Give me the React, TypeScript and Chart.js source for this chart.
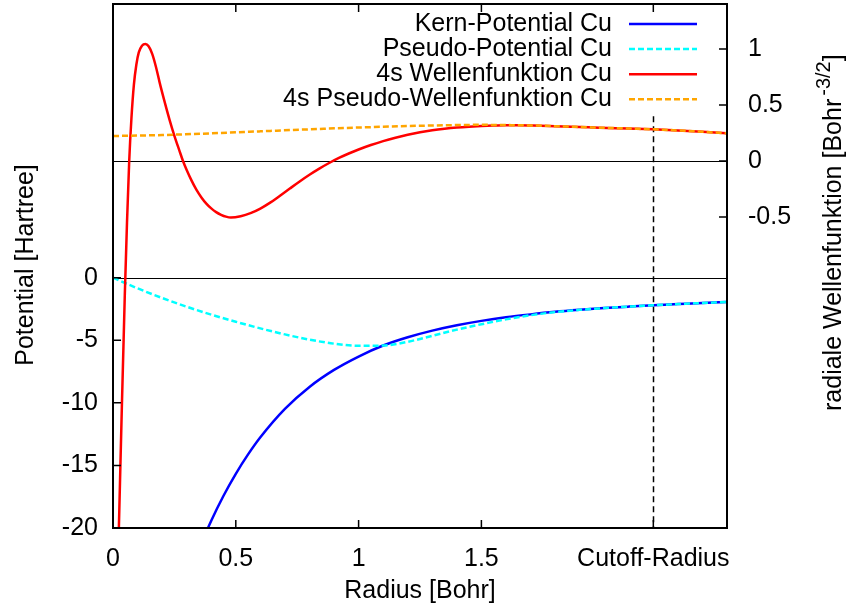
import React, { useEffect, useRef } from "react";
import { Chart, registerables } from "chart.js";

Chart.register(...registerables);

// Radius grid and values of the all-electron (Kern) potential, Hartree
const kernR = [0.30, 0.35, 0.40, 0.45, 0.50, 0.55, 0.60, 0.70, 0.80, 0.90, 1.00, 1.10, 1.20, 1.30, 1.40, 1.50, 1.60, 1.70, 1.80, 1.90, 2.00, 2.10, 2.20, 2.30, 2.40, 2.50];
const kernV = [-24.3, -21.7, -19.42, -17.42, -15.67, -14.12, -12.75, -10.48, -8.73, -7.37, -6.3, -5.42, -4.76, -4.23, -3.8, -3.45, -3.16, -2.93, -2.73, -2.57, -2.43, -2.31, -2.2, -2.11, -2.02, -1.94];

// Pseudo-potential, Hartree
const pseudoR = [0.0, 0.1, 0.2, 0.3, 0.4, 0.5, 0.6, 0.7, 0.8, 0.9, 1.0, 1.1, 1.2, 1.3, 1.4, 1.5, 1.6, 1.7, 1.8, 1.9, 2.0, 2.1, 2.2, 2.3, 2.4, 2.5];
const pseudoV = [0.0, -0.85, -1.62, -2.32, -2.95, -3.52, -4.05, -4.53, -4.95, -5.27, -5.44, -5.42, -5.12, -4.65, -4.15, -3.72, -3.33, -3.0, -2.75, -2.57, -2.43, -2.31, -2.2, -2.11, -2.02, -1.94];

// 4s radial wave function (all-electron), Bohr^-3/2
const waveR = [0.010, 0.024, 0.036, 0.048, 0.057, 0.066, 0.075, 0.085, 0.095, 0.105, 0.118, 0.132, 0.145, 0.160, 0.175, 0.190, 0.210, 0.230, 0.250, 0.270, 0.285, 0.300, 0.320, 0.340, 0.360, 0.380, 0.400, 0.420, 0.440, 0.460, 0.480, 0.520, 0.560, 0.600, 0.640, 0.680, 0.720, 0.760, 0.800, 0.840, 0.880, 0.920, 0.960, 1.000, 1.050, 1.100, 1.150, 1.200, 1.250, 1.300, 1.350, 1.400, 1.450, 1.500, 1.550, 1.600, 1.650, 1.710, 1.800, 1.900, 1.980, 2.100, 2.200, 2.300, 2.400, 2.500];
const waveAE = [-4.5, -3.27, -2.2, -1.2, -0.55, 0.0, 0.38, 0.68, 0.86, 0.97, 1.03, 1.045, 1.025, 0.955, 0.84, 0.7, 0.53, 0.37, 0.225, 0.095, 0.0, -0.08, -0.175, -0.258, -0.325, -0.38, -0.423, -0.456, -0.48, -0.497, -0.505, -0.493, -0.466, -0.425, -0.372, -0.31, -0.246, -0.183, -0.123, -0.068, -0.018, 0.027, 0.067, 0.103, 0.143, 0.178, 0.208, 0.234, 0.256, 0.274, 0.288, 0.299, 0.307, 0.313, 0.317, 0.319, 0.319, 0.317, 0.311, 0.304, 0.298, 0.29, 0.283, 0.273, 0.261, 0.247];

// 4s pseudo wave function, Bohr^-3/2
const pseudoWaveR = [0.0, 0.2, 0.4, 0.6, 0.8, 1.0, 1.2, 1.4, 1.5, 1.6, 1.71, 1.8, 1.9, 1.98, 2.1, 2.2, 2.3, 2.4, 2.5];
const pseudoWave = [0.223, 0.232, 0.247, 0.265, 0.283, 0.299, 0.312, 0.321, 0.323, 0.321, 0.317, 0.311, 0.304, 0.298, 0.29, 0.283, 0.273, 0.261, 0.247];

const seriesLabels = ["Kern-Potential Cu", "Pseudo-Potential Cu", "4s Wellenfunktion Cu", "4s Pseudo-Wellenfunktion Cu"];

// Axis ticks
const CUTOFF_RADIUS = 2.2;
const CUTOFF_LINE_TOP = 0.4; // on the wave-function axis
const xTicks = [0, 0.5, 1, 1.5, CUTOFF_RADIUS];
const potentialTicks = [-20, -15, -10, -5, 0];
const waveTicks = [-0.5, 0, 0.5, 1];

const FONT = "Liberation Sans, Arial, Helvetica, sans-serif";
const FONT_SIZE = 25;

const toPoints = (xs: number[], ys: number[]) => xs.map((x, i) => ({ x, y: ys[i] }));

// fixed axis boxes so the plot frame sits where it should
const fixBox = (size: { width?: number; height?: number }) => (s: any) => {
  if (size.width !== undefined) s.width = size.width;
  if (size.height !== undefined) s.height = size.height;
  s.paddingTop = 0;
  s.paddingBottom = 0;
  s.paddingLeft = 0;
  s.paddingRight = 0;
};

const decorations = {
  id: "decorations",
  beforeDatasetsDraw(chart: any) {
    const { ctx, chartArea: a, scales } = chart;
    ctx.save();
    ctx.beginPath();
    ctx.rect(a.left, a.top, a.right - a.left, a.bottom - a.top);
    ctx.clip();
    ctx.strokeStyle = "#000";
    ctx.lineWidth = 1;
    for (const y of [scales.y.getPixelForValue(0), scales.y2.getPixelForValue(0)]) {
      const py = Math.round(y) + 0.5;
      ctx.beginPath();
      ctx.moveTo(a.left, py);
      ctx.lineTo(a.right, py);
      ctx.stroke();
    }
    // cutoff radius marker
    const cx = Math.round(scales.x.getPixelForValue(CUTOFF_RADIUS)) + 0.5;
    ctx.setLineDash([6, 4]);
    ctx.lineWidth = 1.5;
    ctx.beginPath();
    ctx.moveTo(cx, scales.y2.getPixelForValue(CUTOFF_LINE_TOP));
    ctx.lineTo(cx, a.bottom);
    ctx.stroke();
    ctx.restore();
  },
  afterDatasetsDraw(chart: any) {
    const { ctx, chartArea: a, scales } = chart;
    ctx.save();
    ctx.strokeStyle = "#000";
    ctx.lineWidth = 1.5;
    const TL = 8;
    ctx.beginPath();
    for (const v of xTicks) {
      const px = scales.x.getPixelForValue(v);
      ctx.moveTo(px, a.bottom);
      ctx.lineTo(px, a.bottom - TL);
      ctx.moveTo(px, a.top);
      ctx.lineTo(px, a.top + TL);
    }
    for (const v of potentialTicks) {
      const py = scales.y.getPixelForValue(v);
      ctx.moveTo(a.left, py);
      ctx.lineTo(a.left + TL, py);
    }
    for (const v of waveTicks) {
      const py = scales.y2.getPixelForValue(v);
      ctx.moveTo(a.right, py);
      ctx.lineTo(a.right - TL, py);
    }
    ctx.stroke();
    ctx.lineWidth = 2;
    ctx.strokeRect(a.left, a.top, a.right - a.left, a.bottom - a.top);

    // key
    ctx.font = `${FONT_SIZE}px ${FONT}`;
    ctx.fillStyle = "#000";
    ctx.textAlign = "right";
    ctx.textBaseline = "middle";
    const ds = chart.data.datasets;
    seriesLabels.forEach((label, i) => {
      const y = 24 + i * 25.1;
      ctx.fillText(label, 612, y);
      ctx.strokeStyle = ds[i].borderColor;
      ctx.lineWidth = ds[i].borderWidth;
      ctx.setLineDash(ds[i].borderDash || []);
      ctx.beginPath();
      ctx.moveTo(629, y);
      ctx.lineTo(697, y);
      ctx.stroke();
    });
    ctx.setLineDash([]);
    ctx.restore();
  },
  afterDraw(chart: any) {
    const { ctx, chartArea: a } = chart;
    ctx.save();
    ctx.fillStyle = "#000";
    ctx.font = `${FONT_SIZE}px ${FONT}`;
    ctx.textBaseline = "alphabetic";
    // x title
    ctx.textAlign = "center";
    ctx.fillText("Radius [Bohr]", (a.left + a.right) / 2, 598);
    // left title
    ctx.save();
    ctx.translate(33, 265);
    ctx.rotate(-Math.PI / 2);
    ctx.fillText("Potential [Hartree]", 0, 0);
    ctx.restore();
    // right title with superscript
    ctx.save();
    ctx.translate(841, 411);
    ctx.rotate(-Math.PI / 2);
    ctx.textAlign = "left";
    const main = "radiale Wellenfunktion [Bohr";
    ctx.fillText(main, 0, 0);
    let x = ctx.measureText(main).width + 3;
    ctx.font = `${Math.round(FONT_SIZE * 0.8)}px ${FONT}`;
    ctx.fillText("-3/2", x, -11);
    x += ctx.measureText("-3/2").width;
    ctx.font = `${FONT_SIZE}px ${FONT}`;
    ctx.fillText("]", x, 0);
    ctx.restore();
    ctx.restore();
  },
};

export default function App() {
  const canvasRef = useRef<HTMLCanvasElement>(null);

  useEffect(() => {
    const canvas = canvasRef.current;
    if (!canvas) return;
    const tickFont = { family: FONT, size: FONT_SIZE };
    const chart = new Chart(canvas, {
      type: "line",
      data: {
        datasets: [
          {
            label: seriesLabels[0],
            data: toPoints(kernR, kernV),
            yAxisID: "y",
            borderColor: "#0000ff",
            borderWidth: 2.5,
            pointRadius: 0,
            cubicInterpolationMode: "monotone",
            order: 4,
          },
          {
            label: seriesLabels[1],
            data: toPoints(pseudoR, pseudoV),
            yAxisID: "y",
            borderColor: "#00ffff",
            borderWidth: 2.5,
            borderDash: [6, 3],
            pointRadius: 0,
            cubicInterpolationMode: "monotone",
            order: 3,
          },
          {
            label: seriesLabels[2],
            data: toPoints(waveR, waveAE),
            yAxisID: "y2",
            borderColor: "#ff0000",
            borderWidth: 2.5,
            pointRadius: 0,
            cubicInterpolationMode: "monotone",
            order: 2,
          },
          {
            label: seriesLabels[3],
            data: toPoints(pseudoWaveR, pseudoWave),
            yAxisID: "y2",
            borderColor: "#ffa500",
            borderWidth: 2.5,
            borderDash: [6, 3],
            pointRadius: 0,
            cubicInterpolationMode: "monotone",
            order: 1,
          },
        ],
      },
      options: {
        responsive: false,
        animation: false,
        devicePixelRatio: 1,
        layout: { padding: { top: 4, left: 0, right: 0, bottom: 0 } },
        plugins: { legend: { display: false }, tooltip: { enabled: false } },
        scales: {
          x: {
            type: "linear",
            position: "bottom",
            min: 0,
            max: 2.5,
            afterBuildTicks: (s: any) => {
              s.ticks = xTicks.map((value) => ({ value }));
            },
            afterFit: fixBox({ height: 82 }),
            ticks: {
              font: tickFont,
              color: "#000",
              padding: 16,
              maxRotation: 0,
              autoSkip: false,
              callback: (v: any) => (v === CUTOFF_RADIUS ? "Cutoff-Radius" : String(v)),
            },
            grid: { display: false, drawTicks: false },
            border: { display: false },
          },
          y: {
            type: "linear",
            position: "left",
            min: -20,
            max: 21.87,
            afterBuildTicks: (s: any) => {
              s.ticks = potentialTicks.map((value) => ({ value }));
            },
            afterFit: fixBox({ width: 113 }),
            ticks: { font: tickFont, color: "#000", padding: 15, autoSkip: false, callback: (v: any) => String(v) },
            grid: { display: false, drawTicks: false },
            border: { display: false },
          },
          y2: {
            type: "linear",
            position: "right",
            min: -3.277,
            max: 1.402,
            afterBuildTicks: (s: any) => {
              s.ticks = waveTicks.map((value) => ({ value }));
            },
            afterFit: fixBox({ width: 120 }),
            ticks: { font: tickFont, color: "#000", padding: 21, autoSkip: false, callback: (v: any) => String(v) },
            grid: { display: false, drawTicks: false },
            border: { display: false },
          },
        },
      },
      plugins: [decorations],
    } as any);
    return () => chart.destroy();
  }, []);

  return (
    <div style={{ position: "absolute", left: 0, top: 0, width: 847, height: 610, background: "#fff" }}>
      <canvas ref={canvasRef} width={847} height={610} style={{ width: 847, height: 610 }} />
    </div>
  );
}
